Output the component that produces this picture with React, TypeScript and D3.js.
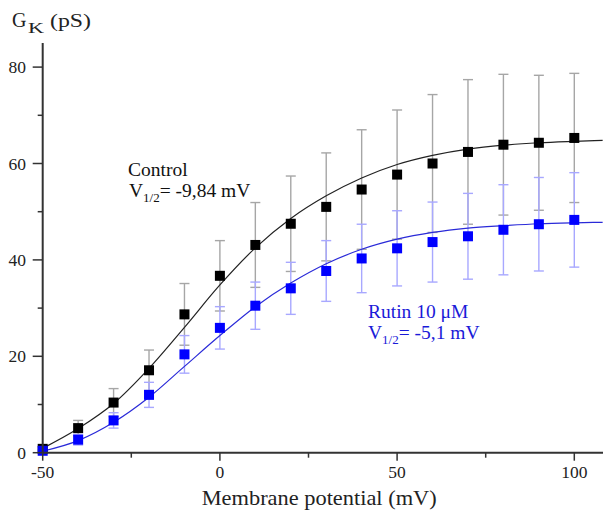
import React from "react";
import * as d3 from "d3";

const voltages = [-50, -40, -30, -20, -10, 0, 10, 20, 30, 40, 50, 60, 70, 80, 90, 100];
const controlG = [0.8, 5.1, 10.4, 17.1, 28.7, 36.7, 43.1, 47.5, 51.0, 54.6, 57.7, 60.0, 62.4, 63.9, 64.3, 65.3];
const controlErr = [0.4, 1.6, 2.9, 4.2, 6.4, 7.3, 8.8, 9.9, 11.2, 12.4, 13.4, 14.3, 15.0, 14.6, 14.0, 13.4];
const rutinG = [0.4, 2.7, 6.7, 12.0, 20.4, 25.9, 30.5, 34.1, 37.7, 40.3, 42.4, 43.7, 44.9, 46.25, 47.4, 48.3];
const rutinErr = [0.3, 1.1, 1.6, 2.6, 3.9, 4.4, 4.9, 5.4, 6.3, 7.1, 7.8, 8.3, 8.9, 9.35, 9.7, 9.8];

const fitV = [-50, -40, -30, -20, -10, 0, 10, 20, 30, 40, 50, 60, 70, 80, 90, 100, 108];
const controlFit = [0.9, 5.0, 10.2, 17.5, 26.0, 34.8, 42.5, 48.6, 53.3, 57.0, 59.8, 61.7, 63.0, 63.8, 64.3, 64.6, 64.8];
const rutinFit = [0.3, 2.5, 6.3, 11.5, 17.9, 24.3, 30.3, 35.2, 39.2, 42.2, 44.3, 45.7, 46.6, 47.1, 47.5, 47.7, 47.8];

const xMajor = [-50, 0, 50, 100];
const xMinor = [-25, 25, 75];
const yMajor = [0, 20, 40, 60, 80];
const yMinor = [10, 30, 50, 70];

export default function App() {
  const W = 603, H = 510;
  const x = d3.scaleLinear().domain([-50, 100]).range([42.7, 574.3]);
  const y = d3.scaleLinear().domain([0, 80]).range([452.7, 67.1]);
  const xEnd = 603;
  const yTop = 43;
  const font = "'Liberation Serif', 'Times New Roman', serif";
  const line = d3
    .line<number>()
    .x((_, i) => x(fitV[i]))
    .y((d) => y(d))
    .curve(d3.curveMonotoneX);

  const sq = 10;
  const cap = 5;

  const errBars = (vals: number[], errs: number[], color: string) =>
    voltages.map((v, i) => (
      <g key={i} stroke={color} strokeWidth={1.4}>
        <line x1={x(v)} x2={x(v)} y1={y(vals[i] + errs[i])} y2={y(vals[i] - errs[i])} />
        <line x1={x(v) - cap} x2={x(v) + cap} y1={y(vals[i] + errs[i])} y2={y(vals[i] + errs[i])} />
        <line x1={x(v) - cap} x2={x(v) + cap} y1={y(vals[i] - errs[i])} y2={y(vals[i] - errs[i])} />
      </g>
    ));

  const squares = (vals: number[], color: string) =>
    voltages.map((v, i) => (
      <rect key={i} x={x(v) - sq / 2} y={y(vals[i]) - sq / 2} width={sq} height={sq} fill={color} />
    ));

  return (
    <svg width={W} height={H} style={{ position: "absolute", left: 0, top: 0, background: "#fff" }} fontFamily={font}>
      <rect width={W} height={H} fill="#fff" />
      {errBars(controlG, controlErr, "#a6a6a6")}
      {errBars(rutinG, rutinErr, "#a8a8ff")}
      <path d={line(controlFit) || ""} fill="none" stroke="#222" strokeWidth={1.2} />
      <path d={line(rutinFit) || ""} fill="none" stroke="#2a2ad8" strokeWidth={1.2} />
      {squares(controlG, "#000")}
      {squares(rutinG, "#0000ff")}

      <g stroke="#333" strokeWidth={2}>
        <line x1={x(-50)} x2={xEnd} y1={y(0)} y2={y(0)} />
        <line x1={x(-50)} x2={x(-50)} y1={y(0)} y2={yTop} />
        {xMajor.map((v) => (
          <line key={"xM" + v} x1={x(v)} x2={x(v)} y1={y(0)} y2={y(0) + 8} strokeWidth={1.5} />
        ))}
        {xMinor.map((v) => (
          <line key={"xm" + v} x1={x(v)} x2={x(v)} y1={y(0)} y2={y(0) + 5} strokeWidth={1.5} />
        ))}
        {yMajor.map((v) => (
          <line key={"yM" + v} x1={x(-50)} x2={x(-50) - 10} y1={y(v)} y2={y(v)} strokeWidth={1.5} />
        ))}
        {yMinor.map((v) => (
          <line key={"ym" + v} x1={x(-50)} x2={x(-50) - 5} y1={y(v)} y2={y(v)} strokeWidth={1.5} />
        ))}
      </g>
      {xMajor.map((v) => (
        <text key={"xl" + v} x={x(v)} y={478} textAnchor="middle" fontSize={17.5} fill="#222">
          {v}
        </text>
      ))}
      {yMajor.map((v) => (
        <text key={"yl" + v} x={26} y={y(v) + 6} textAnchor="end" fontSize={17.5} fill="#222">
          {v}
        </text>
      ))}

      <text x={201.7} y={505} fontSize={22} fill="#222" textLength={235} lengthAdjust="spacingAndGlyphs">
        Membrane potential (mV)
      </text>
      <text x={12} y={27} fontSize={20} fill="#222">G</text>
      <text x={28} y={33} fontSize={15} fill="#222" textLength={16} lengthAdjust="spacingAndGlyphs">K</text>
      <text x={50} y={27} fontSize={19} fill="#222" textLength={41} lengthAdjust="spacingAndGlyphs">(pS)</text>

      <text x={128} y={176} fontSize={19.5} fill="#111">Control</text>
      <text x={129} y={196.5} fontSize={19.5} fill="#111">
        V<tspan fontSize={13} dy={5}>1/2</tspan>
        <tspan dy={-5}>= -9,84 mV</tspan>
      </text>
      <text x={368} y={318} fontSize={19.5} fill="#1a1ad8">Rutin 10 μM</text>
      <text x={368} y={339} fontSize={19.5} fill="#1a1ad8">
        V<tspan fontSize={13} dy={5}>1/2</tspan>
        <tspan dy={-5}>= -5,1 mV</tspan>
      </text>
    </svg>
  );
}
